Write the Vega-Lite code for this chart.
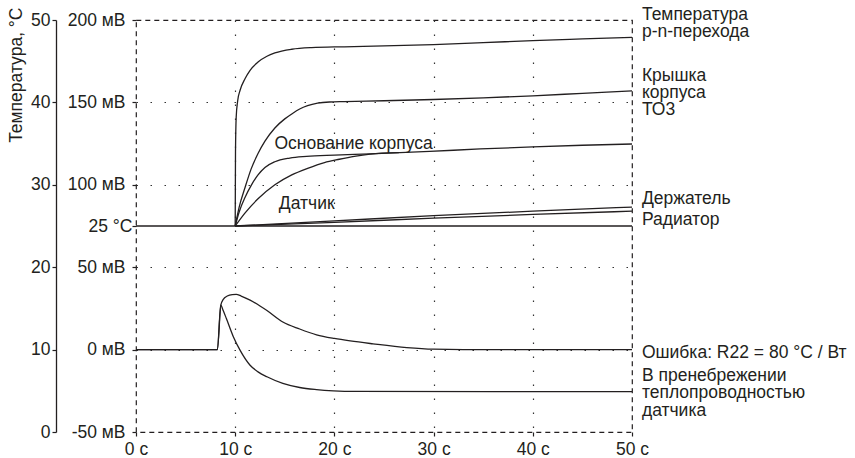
{
  "$schema": "https://vega.github.io/schema/vega-lite/v6.json",
  "width": 496,
  "height": 412,
  "autosize": {"type": "none"},
  "padding": {"left": 136, "top": 20, "right": 223, "bottom": 26},
  "background": "white",
  "config": {
    "font": "Liberation Sans",
    "view": {"stroke": "#231f20", "strokeDash": [5, 4], "strokeWidth": 1.2},
    "axis": {
      "labelFont": "Liberation Sans",
      "labelFontSize": 17.5,
      "labelColor": "#231f20",
      "tickColor": "#231f20",
      "tickWidth": 1.2,
      "domainColor": "#231f20",
      "titleFont": "Liberation Sans",
      "titleFontWeight": "normal",
      "titleFontSize": 17.5,
      "titleColor": "#231f20",
      "labelOverlap": false
    }
  },
  "datasets": {
    "curves": [
      {"series": "ambient", "s": 0, "t": 25}, {"series": "ambient", "s": 50, "t": 25},
      {"series": "J", "s": 10, "t": 25}, {"series": "J", "s": 10.03, "t": 34}, {"series": "J", "s": 10.1, "t": 38.2}, {"series": "J", "s": 10.25, "t": 40.2}, {"series": "J", "s": 10.5, "t": 41.5}, {"series": "J", "s": 11, "t": 42.9}, {"series": "J", "s": 11.5, "t": 43.9}, {"series": "J", "s": 12.3, "t": 44.9}, {"series": "J", "s": 13.2, "t": 45.6}, {"series": "J", "s": 14, "t": 46}, {"series": "J", "s": 15.7, "t": 46.45}, {"series": "J", "s": 17.7, "t": 46.65}, {"series": "J", "s": 21, "t": 46.75}, {"series": "J", "s": 25, "t": 46.85}, {"series": "J", "s": 30, "t": 47.02}, {"series": "J", "s": 35, "t": 47.25}, {"series": "J", "s": 40, "t": 47.5}, {"series": "J", "s": 45, "t": 47.7}, {"series": "J", "s": 50, "t": 47.9},
      {"series": "K", "s": 10, "t": 25}, {"series": "K", "s": 10.4, "t": 27.3}, {"series": "K", "s": 11, "t": 29.7}, {"series": "K", "s": 11.6, "t": 31.9}, {"series": "K", "s": 12.3, "t": 33.8}, {"series": "K", "s": 13, "t": 35.3}, {"series": "K", "s": 14, "t": 36.9}, {"series": "K", "s": 15, "t": 38}, {"series": "K", "s": 15.7, "t": 38.6}, {"series": "K", "s": 16.5, "t": 39.2}, {"series": "K", "s": 17.3, "t": 39.6}, {"series": "K", "s": 18.3, "t": 39.9}, {"series": "K", "s": 19.5, "t": 40.05}, {"series": "K", "s": 21, "t": 40.1}, {"series": "K", "s": 25, "t": 40.2}, {"series": "K", "s": 30, "t": 40.35}, {"series": "K", "s": 35, "t": 40.55}, {"series": "K", "s": 40, "t": 40.8}, {"series": "K", "s": 45, "t": 41.1}, {"series": "K", "s": 50, "t": 41.4},
      {"series": "B", "s": 10, "t": 25}, {"series": "B", "s": 10.4, "t": 26.7}, {"series": "B", "s": 11, "t": 28.5}, {"series": "B", "s": 11.6, "t": 29.9}, {"series": "B", "s": 12.3, "t": 31.2}, {"series": "B", "s": 13, "t": 32.1}, {"series": "B", "s": 14, "t": 32.8}, {"series": "B", "s": 15.5, "t": 33.25}, {"series": "B", "s": 17.2, "t": 33.45}, {"series": "B", "s": 20, "t": 33.6}, {"series": "B", "s": 23.6, "t": 33.75}, {"series": "B", "s": 29.6, "t": 34.05}, {"series": "B", "s": 34.7, "t": 34.35}, {"series": "B", "s": 40, "t": 34.6}, {"series": "B", "s": 45, "t": 34.8}, {"series": "B", "s": 50, "t": 34.95},
      {"series": "D", "s": 10, "t": 25}, {"series": "D", "s": 11, "t": 26.6}, {"series": "D", "s": 12.3, "t": 28.3}, {"series": "D", "s": 14, "t": 30}, {"series": "D", "s": 15.7, "t": 31.2}, {"series": "D", "s": 17.3, "t": 32}, {"series": "D", "s": 19, "t": 32.7}, {"series": "D", "s": 20.5, "t": 33.1}, {"series": "D", "s": 22, "t": 33.45}, {"series": "D", "s": 23.6, "t": 33.72}, {"series": "D", "s": 26.5, "t": 33.9},
      {"series": "H", "s": 10, "t": 25}, {"series": "H", "s": 20, "t": 25.62}, {"series": "H", "s": 30, "t": 26.25}, {"series": "H", "s": 40, "t": 26.8}, {"series": "H", "s": 50, "t": 27.3},
      {"series": "R", "s": 10, "t": 25}, {"series": "R", "s": 20, "t": 25.45}, {"series": "R", "s": 30, "t": 25.95}, {"series": "R", "s": 40, "t": 26.4}, {"series": "R", "s": 50, "t": 26.8}
    ],
    "errors": [
      {"series": "E", "s": 0, "t": 10}, {"series": "E", "s": 8.2, "t": 10}, {"series": "E", "s": 8.55, "t": 15.4}, {"series": "E", "s": 8.8, "t": 16.1}, {"series": "E", "s": 9.2, "t": 16.5}, {"series": "E", "s": 9.7, "t": 16.68}, {"series": "E", "s": 10.1, "t": 16.7}, {"series": "E", "s": 10.6, "t": 16.5}, {"series": "E", "s": 11.5, "t": 16}, {"series": "E", "s": 12.5, "t": 15.3}, {"series": "E", "s": 13.2, "t": 14.75}, {"series": "E", "s": 14.8, "t": 13.35}, {"series": "E", "s": 16.5, "t": 12.5}, {"series": "E", "s": 18.2, "t": 11.8}, {"series": "E", "s": 20, "t": 11.35}, {"series": "E", "s": 21.6, "t": 11.05}, {"series": "E", "s": 23.9, "t": 10.7}, {"series": "E", "s": 27.3, "t": 10.25}, {"series": "E", "s": 30, "t": 10.05}, {"series": "E", "s": 33, "t": 10}, {"series": "E", "s": 50, "t": 10},
      {"series": "N", "s": 0, "t": 10}, {"series": "N", "s": 8.2, "t": 10}, {"series": "N", "s": 8.55, "t": 15.4}, {"series": "N", "s": 8.8, "t": 14.7}, {"series": "N", "s": 9.1, "t": 13.8}, {"series": "N", "s": 9.8, "t": 11.6}, {"series": "N", "s": 10.5, "t": 9.9}, {"series": "N", "s": 11.5, "t": 8.1}, {"series": "N", "s": 12.3, "t": 7.3}, {"series": "N", "s": 13.2, "t": 6.7}, {"series": "N", "s": 14.8, "t": 5.9}, {"series": "N", "s": 16.5, "t": 5.4}, {"series": "N", "s": 18.2, "t": 5.15}, {"series": "N", "s": 19.9, "t": 5}, {"series": "N", "s": 22, "t": 4.92}, {"series": "N", "s": 50, "t": 4.9}
    ],
    "labels": [
      {"label": "Температура", "s": 51, "t": 50.06},
      {"label": "p-n-перехода", "s": 51, "t": 47.97},
      {"label": "Крышка", "s": 51, "t": 42.6},
      {"label": "корпуса", "s": 51, "t": 40.53},
      {"label": "ТО3", "s": 51, "t": 38.47},
      {"label": "Держатель", "s": 51, "t": 27.65},
      {"label": "Радиатор", "s": 51, "t": 25.1},
      {"label": "Ошибка: R22 = 80 °C / Вт", "s": 51, "t": 9.04},
      {"label": "В пренебрежении", "s": 51, "t": 6.25},
      {"label": "теплопроводностью", "s": 51, "t": 4.13},
      {"label": "датчика", "s": 51, "t": 2.0},
      {"label": "Основание корпуса", "s": 13.95, "t": 34.4},
      {"label": "Датчик", "s": 14.4, "t": 27.12}
    ]
  },
  "encoding": {
    "x": {
      "field": "s", "type": "quantitative",
      "scale": {"domain": [0, 50], "nice": false, "zero": false},
      "axis": {
        "values": [0, 10, 20, 30, 40, 50],
        "labelExpr": "datum.value + ' с'",
        "labelFlush": false,
        "domain": false,
        "tickSize": 4,
        "labelPadding": 4,
        "labelDx": 3,
        "grid": true,
        "gridDash": [1.5, 12.5],
        "gridColor": "#333333",
        "gridWidth": 1.2,
        "gridOpacity": {"condition": {"test": "datum.value == 0 || datum.value == 50", "value": 0}, "value": 1},
        "title": null
      }
    }
  },
  "resolve": {"scale": {"y": "shared", "x": "shared"}, "axis": {"y": "independent"}},
  "layer": [
    {
      "data": {"name": "curves"},
      "mark": {"type": "line", "interpolate": "monotone", "color": "#231f20", "strokeWidth": 1.3},
      "encoding": {
        "y": {
          "field": "t", "type": "quantitative",
          "scale": {"domain": [0, 50], "nice": false, "zero": false},
          "axis": {
            "orient": "left",
            "values": [0, 10, 20, 25, 30, 40, 50],
            "labelExpr": "datum.value == 25 ? '25 °C' : ((datum.value - 10) * 5) + ' мВ'",
            "domain": false,
            "tickSize": 4,
            "labelPadding": {"condition": {"test": "datum.value == 25", "value": 0}, "value": 7},
            "grid": true,
            "gridDash": [1.5, 12.5],
            "gridColor": "#333333",
            "gridWidth": 1.2,
            "gridOpacity": {"condition": {"test": "datum.value == 0 || datum.value == 50 || datum.value == 25", "value": 0}, "value": 1},
            "title": null
          }
        },
        "detail": {"field": "series"}
      }
    },
    {
      "data": {"name": "errors"},
      "mark": {"type": "line", "interpolate": "monotone", "color": "#231f20", "strokeWidth": 1.3},
      "encoding": {
        "y": {
          "field": "t", "type": "quantitative",
          "axis": {
            "orient": "left",
            "offset": 80,
            "values": [0, 10, 20, 30, 40, 50],
            "format": "d",
            "domain": true,
            "domainWidth": 1.3,
            "tickSize": 4,
            "labelPadding": 2,
            "grid": false,
            "title": "Температура, °С",
            "titleAngle": -90,
            "titleX": -35,
            "titleY": -13,
            "titleAlign": "right",
            "titleBaseline": "alphabetic"
          }
        },
        "detail": {"field": "series"}
      }
    },
    {
      "data": {"name": "labels"},
      "mark": {"type": "text", "align": "left", "baseline": "alphabetic", "font": "Liberation Sans", "fontSize": 17.5, "color": "#231f20"},
      "encoding": {
        "y": {"field": "t", "type": "quantitative", "axis": null},
        "text": {"field": "label"}
      }
    }
  ]
}
